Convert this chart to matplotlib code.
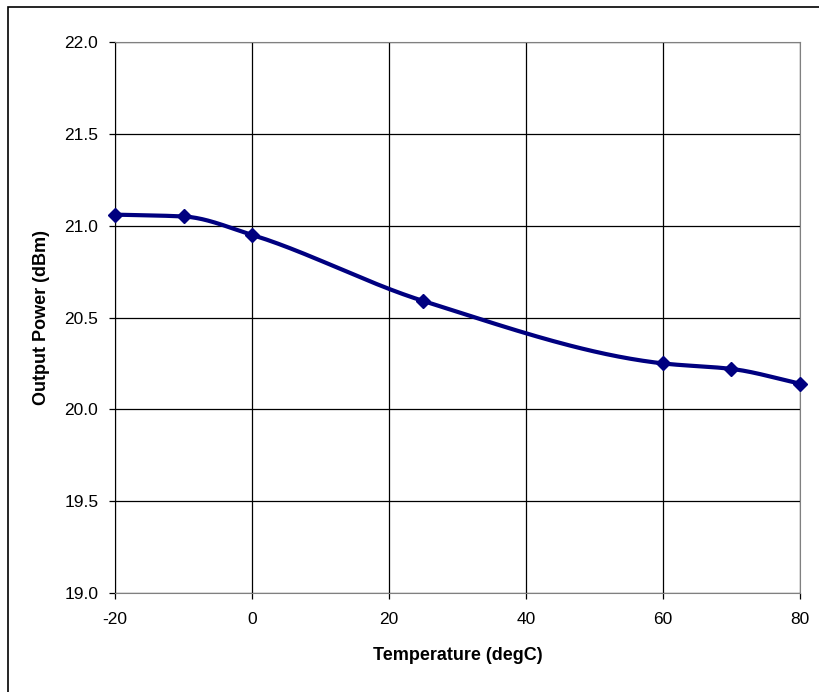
import numpy as np
import matplotlib
matplotlib.use("Agg")
import matplotlib.pyplot as plt
from matplotlib.patches import Rectangle

temperature = [-20, -10, 0, 25, 60, 70, 80]
output_power = [21.06, 21.05, 20.95, 20.59, 20.25, 20.22, 20.14]
x_ticks = [-20, 0, 20, 40, 60, 80]
y_ticks = [19.0, 19.5, 20.0, 20.5, 21.0, 21.5, 22.0]

plt.rcParams['font.family'] = ['Liberation Sans', 'DejaVu Sans']

def smooth(xs, ys, n=60):
    # monotone cubic (PCHIP) smoothing through the data points
    x = np.asarray(xs, float); y = np.asarray(ys, float)
    h = np.diff(x); d = np.diff(y) / h
    m = np.zeros_like(y)
    for k in range(1, len(x) - 1):
        if d[k-1] * d[k] > 0:
            w1 = 2*h[k] + h[k-1]; w2 = h[k] + 2*h[k-1]
            m[k] = (w1 + w2) / (w1/d[k-1] + w2/d[k])
    m[0] = d[0]; m[-1] = d[-1]
    ox, oy = [], []
    for k in range(len(x) - 1):
        t = np.linspace(0, 1, n)
        h00 = 2*t**3 - 3*t**2 + 1; h10 = t**3 - 2*t**2 + t
        h01 = -2*t**3 + 3*t**2; h11 = t**3 - t**2
        ox.extend(x[k] + t*h[k])
        oy.extend(h00*y[k] + h10*h[k]*m[k] + h01*y[k+1] + h11*h[k]*m[k+1])
    return np.array(ox), np.array(oy)

W, H = 820, 692
fig = plt.figure(figsize=(W/100, H/100), dpi=100)
ax = fig.add_axes([115/W, 1 - 593/H, (800-115)/W, (593-42)/H])

# outer chart border
fig.patches.append(Rectangle((8/W, -0.1), 1.2, 1 - 7/H + 0.1, transform=fig.transFigure,
                             fill=False, edgecolor='black', linewidth=1.2))

sx, sy = smooth(temperature, output_power)
ax.plot(sx, sy, color='#000080', linewidth=3, solid_capstyle='round', zorder=3, clip_on=False)
ax.plot(temperature, output_power, linestyle='none', marker='D', markersize=7,
        color='#000080', zorder=4, clip_on=False)

ax.set_xlim(-20, 80)
ax.set_ylim(19.0, 22.0)
ax.set_xticks(x_ticks)
ax.set_yticks(y_ticks)
ax.set_xticklabels([str(v) for v in x_ticks])
ax.set_yticklabels([f"{v:.1f}" for v in y_ticks])
ax.grid(True, color='black', linewidth=0.9, zorder=1)
ax.set_axisbelow(True)
for s in ['top', 'right', 'bottom']:
    ax.spines[s].set_color('#808080')
ax.spines['left'].set_color('black')
ax.tick_params(axis='both', direction='out', length=4, width=0.9, labelsize=12.5,
               colors='black')
ax.tick_params(axis='x', pad=10)
ax.tick_params(axis='y', pad=8)

ax.set_xlabel('Temperature (degC)', fontsize=13, fontweight='bold', labelpad=14)
ax.set_ylabel('Output Power (dBm)', fontsize=13, fontweight='bold', labelpad=10)

fig.savefig('out.png', dpi=100)
